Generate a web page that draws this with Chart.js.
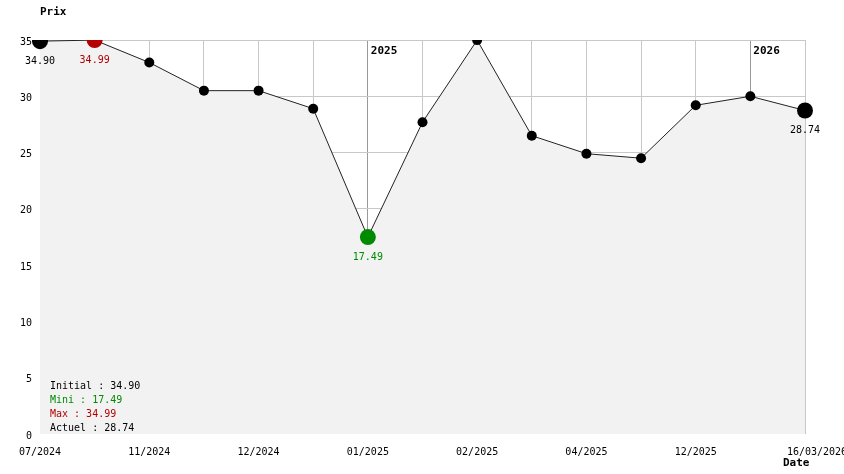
<!DOCTYPE html>
<html>
<head>
<meta charset="utf-8">
<script src="https://cdn.jsdelivr.net/npm/chart.js@4"></script>
<style>
  html, body { margin: 0; padding: 0; background: #fff; overflow: hidden; }
</style>
</head>
<body>
<canvas id="myChart" width="880" height="474"></canvas>
<script>
// chart data
let tickLabels = ['07/2024', '', '11/2024', '', '12/2024', '', '01/2025', '', '02/2025', '', '04/2025', '', '12/2025', '', '16/03/2026'];
let prices = [34.90, 34.99, 33.0, 30.5, 30.5, 28.9, 17.49, 27.7, 34.99, 26.5, 24.9, 24.5, 29.2, 30.0, 28.74];
let yearIndex = [6, 13];
let yearText = ['2025', '2026'];

const FONT = '"DejaVu Sans Mono", "Liberation Mono", monospace';
const RED = '#b40000';
const GREEN = '#008a00';

let last = prices.length - 1;
let maxIdx = prices.indexOf(Math.max(...prices));
let minIdx = prices.indexOf(Math.min(...prices));

let pointColors = prices.map((v, i) => i == maxIdx ? RED : (i == minIdx ? GREEN : '#000'));
let pointSizes = prices.map((v, i) => (i == 0 || i == last || i == maxIdx || i == minIdx) ? 8 : 5);

// texts drawn on top of the chart
const textPlugin = {
    id: 'texts',
    afterDatasetsDraw(chart) {
        let ctx = chart.ctx;
        let meta = chart.getDatasetMeta(0);
        let xs = chart.scales.x;
        let top = chart.chartArea.top;
        ctx.save();
        ctx.textBaseline = 'middle';

        // values under points
        ctx.font = '10px ' + FONT;
        ctx.textAlign = 'center';
        [0, maxIdx, minIdx, last].forEach(i => {
            let p = meta.data[i];
            ctx.fillStyle = pointColors[i];
            ctx.fillText(prices[i].toFixed(2), p.x, p.y + 20);
        });

        // year markers
        ctx.font = 'bold 11px ' + FONT;
        ctx.textAlign = 'left';
        ctx.fillStyle = '#000';
        for (let k = 0; k < yearIndex.length; k++) {
            ctx.fillText(yearText[k], xs.getPixelForValue(yearIndex[k]) + 3, top + 11);
        }

        // axis titles
        ctx.fillText('Prix', chart.chartArea.left, 12);
        ctx.fillText('Date', 783, 463);

        // summary box
        ctx.font = '10px ' + FONT;
        let lines = [
            ['Initial : ' + prices[0].toFixed(2), '#000'],
            ['Mini : ' + prices[minIdx].toFixed(2), GREEN],
            ['Max : ' + prices[maxIdx].toFixed(2), RED],
            ['Actuel : ' + prices[last].toFixed(2), '#000'],
        ];
        let x0 = chart.chartArea.left + 10;
        let y0 = chart.chartArea.bottom - 48;
        lines.forEach((l, i) => {
            ctx.fillStyle = l[1];
            ctx.fillText(l[0], x0, y0 + i * 14);
        });
        ctx.restore();
    }
};

var ctx = document.getElementById('myChart');
var chart = new Chart(ctx, {
    type: 'line',
    data: {
        labels: tickLabels,
        datasets: [
            {
                data: prices,
                borderColor: '#222',
                borderWidth: 1,
                backgroundColor: '#f2f2f2',
                fill: 'origin',
                tension: 0,
                pointRadius: pointSizes,
                pointBackgroundColor: pointColors,
                pointBorderWidth: 0,
            },
        ]
    },
    options: {
        responsive: false,
        animation: false,
        events: [],
        layout: { padding: { top: 40, right: 75, bottom: 0, left: 0 } },
        scales: {
            x: {
                offset: false,
                grid: {
                    offset: false,
                    drawTicks: false,
                    color: (c) => yearIndex.includes(c.index) ? '#999999' : '#c8c8c8',
                },
                border: { display: false },
                ticks: {
                    autoSkip: false,
                    maxRotation: 0,
                    padding: 12,
                    color: '#000',
                    font: { family: FONT, size: 10 },
                    callback: (v, i) => i == last ? '    ' + tickLabels[i] : tickLabels[i],
                },
                afterFit: (s) => { s.height = 40; }
            },
            y: {
                min: 0,
                max: 35,
                grid: {
                    drawTicks: false,
                    color: (c) => c.tick && c.tick.value === 0 ? 'rgba(0,0,0,0)' : '#c8c8c8',
                },
                border: { display: false },
                ticks: {
                    stepSize: 5,
                    padding: 8,
                    labelOffset: 2,
                    color: '#000',
                    font: { family: FONT, size: 10 },
                },
                afterFit: (s) => { s.width = 40; }
            }
        },
        plugins: {
            legend: { display: false },
            tooltip: { enabled: false },
        },
    },
    plugins: [textPlugin]
});
</script>
</body>
</html>
